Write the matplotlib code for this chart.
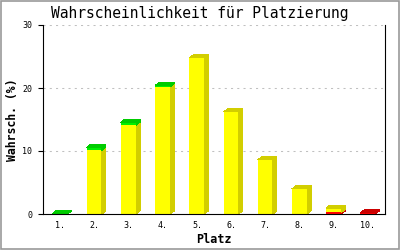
import matplotlib
matplotlib.use("Agg")
import matplotlib.pyplot as plt
from matplotlib.patches import Polygon, Rectangle

places = ['1.', '2.', '3.', '4.', '5.', '6.', '7.', '8.', '9.', '10.']
red = [0, 0, 0, 0, 0, 0, 0, 0, 0.25, 0.2]
yellow = [0, 10.1, 14.1, 20.2, 24.8, 16.2, 8.6, 4.0, 0.7, 0]
green = [0.1, 0.5, 0.5, 0.2, 0, 0, 0, 0, 0, 0]
yticks = [0, 10, 20, 30]

series = [(red, '#FF0000', '#CC0000'),
          (yellow, '#FFFF00', '#D2CE00'),
          (green, '#00F000', '#00CC00')]

fig = plt.figure(figsize=(4, 2.5), dpi=100)
ax = fig.add_axes([43/400, 1-214/250, (385-43)/400, (214-25)/250])
ax.set_xlim(-0.5, len(places)-0.5)
ax.set_ylim(0, 30)

# gridlines
for t in yticks[1:]:
    ax.axhline(t, color='#C0C0C0', lw=0.75, linestyle=(0, (2, 4)), zorder=0)

w = 0.44
dx = 4/34.2
dy = 3/6.3
xs = list(range(len(places)))
bottoms = [0.0]*len(places)
tops_color = [None]*len(places)
for vals, c_front, c_dark in series:
    ax.bar(xs, vals, width=w, bottom=bottoms, color=c_front, linewidth=0, zorder=2, antialiased=False)
    for i, v in enumerate(vals):
        if v <= 0:
            continue
        b = bottoms[i]
        t = b + v
        xr = i + w/2
        ax.add_patch(Polygon([(xr, b), (xr+dx, b+dy), (xr+dx, t+dy), (xr, t)],
                             closed=True, color=c_dark, lw=0, zorder=2, antialiased=False))
        tops_color[i] = c_dark
    bottoms = [bb + v for bb, v in zip(bottoms, vals)]

for i, t in enumerate(bottoms):
    if tops_color[i] is None:
        continue
    xl = i - w/2
    xr = i + w/2
    ax.add_patch(Polygon([(xl, t), (xl+dx, t+dy), (xr+dx, t+dy), (xr, t)],
                         closed=True, color=tops_color[i], lw=0, zorder=2, antialiased=False))

mono = 'DejaVu Sans Mono'
ax.set_xticks(xs)
ax.set_xticklabels(places, fontsize=6, family=mono)
ax.set_yticks(yticks)
ax.set_yticklabels([str(t) for t in yticks], fontsize=6, family=mono)
ax.tick_params(axis='x', length=0, pad=5)
ax.tick_params(axis='y', length=3.6, width=0.8, direction='out', pad=4)
ax.spines['top'].set_visible(False)
for s in ['left', 'bottom', 'right']:
    ax.spines[s].set_linewidth(0.8)
    ax.spines[s].set_color('black')

ax.set_xlabel('Platz', fontsize=8.5, family=mono, fontweight='bold', labelpad=2.5)
ax.set_ylabel('Wahrsch. (%)', fontsize=8.3, family=mono, fontweight='bold', labelpad=2.5)
fig.text(0.5, 1-13.5/250, 'Wahrscheinlichkeit für Platzierung', ha='center', va='center',
         fontsize=10.5, family=mono)

fig.patches.append(Rectangle((0.002, 0.003), 0.996, 0.994, transform=fig.transFigure,
                             fill=False, edgecolor='#999999', lw=1.2))

fig.savefig('out.png', dpi=100)
